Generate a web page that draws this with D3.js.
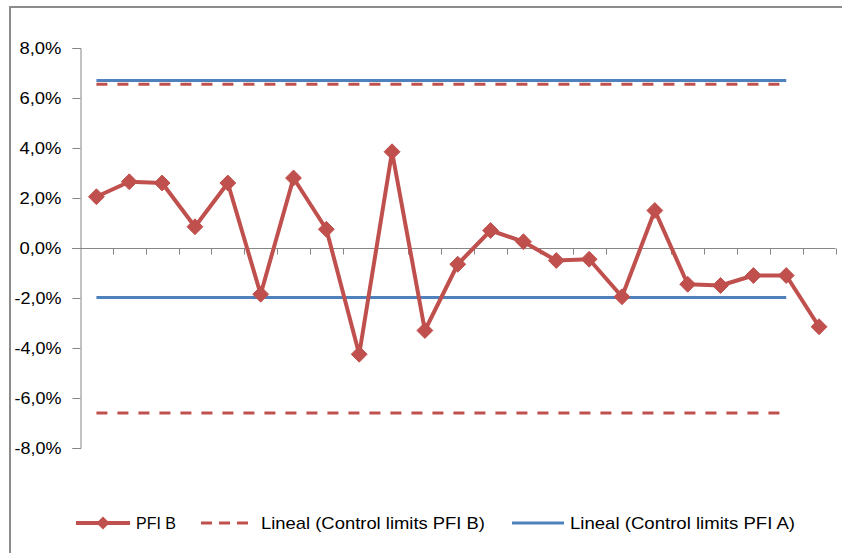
<!DOCTYPE html>
<html>
<head>
<meta charset="utf-8">
<script src="https://cdn.jsdelivr.net/npm/d3@7"></script>
<style>
  html, body { margin: 0; padding: 0; background: #fff; }
  svg { display: block; }
</style>
</head>
<body>
<svg id="chart" width="842" height="553"></svg>
<script>
// categories (no labels shown on the x axis)
var categories = [1, 2, 3, 4, 5, 6, 7, 8, 9, 10, 11, 12, 13, 14, 15, 16, 17, 18, 19, 20, 21, 22, 23];

// PFI B, in percent
var pfiB = [2.05, 2.65, 2.6, 0.85, 2.6, -1.85, 2.8, 0.75, -4.25, 3.85, -3.3, -0.65,
            0.7, 0.25, -0.5, -0.45, -1.95, 1.5, -1.45, -1.5, -1.1, -1.1, -3.15];

// control limits (upper, lower), drawn over the first 22 categories
var limitsB = [6.55, -6.6];
var limitsA = [6.7, -1.98];
var limitCats = categories.slice(0, 22);

var yTicks = [8, 6, 4, 2, 0, -2, -4, -6, -8];

var legendNames = ["PFI B", "Lineal (Control limits PFI B)", "Lineal (Control limits PFI A)"];

var red = "#c0504d", blue = "#4f81bd", axisGrey = "#868686";
var font = "'Liberation Sans Narrow', 'Arial Narrow', 'Liberation Sans', sans-serif";

var svg = d3.select("#chart");

// outer frame (cropped at right/bottom)
svg.append("rect")
    .attr("x", 10).attr("y", 7)
    .attr("width", 900).attr("height", 700)
    .style("fill", "none")
    .style("stroke", "#8c8c8c")
    .style("stroke-width", 2);

var x = d3.scaleBand()
    .domain(categories)
    .range([80, 835.5])
    .padding(0);

var y = d3.scaleLinear()
    .domain([-8, 8])
    .range([448, 48]);

function cx(d) { return x(d) + x.bandwidth() / 2; }

// y axis
var yAxis = svg.append("g")
    .attr("transform", "translate(80.5,0)")
    .call(d3.axisLeft(y).tickValues(yTicks).tickSize(8).tickPadding(11)
        .tickFormat(function(d) { return d.toFixed(1).replace(".", ",") + "%"; }));
yAxis.select(".domain").style("stroke", axisGrey);
yAxis.selectAll(".tick line").style("stroke", axisGrey);
yAxis.selectAll("text")
    .style("font-family", font)
    .style("font-size", "17px")
    .style("fill", "#000")
    .attr("textLength", function(d) { return d < 0 ? 47 : 42; })
    .attr("lengthAdjust", "spacingAndGlyphs");

// x axis at zero, ticks at category boundaries
var xg = svg.append("g").attr("transform", "translate(0," + (y(0) + 0.5) + ")");
xg.append("line")
    .attr("x1", 72).attr("x2", x.range()[1])
    .style("stroke", axisGrey);
xg.selectAll(".xt")
    .data(categories)
  .enter().append("line")
    .attr("class", "xt")
    .attr("x1", function(d) { return Math.round(x(d) + x.bandwidth()) + 0.5; })
    .attr("x2", function(d) { return Math.round(x(d) + x.bandwidth()) + 0.5; })
    .attr("y1", 0).attr("y2", 6)
    .style("stroke", axisGrey);

// control limit lines
function limitLine(v, color, dash, width) {
  var line = d3.line().x(cx).y(function() { return y(v); });
  svg.append("path")
      .datum(limitCats)
      .attr("d", line)
      .style("fill", "none")
      .style("stroke", color)
      .style("stroke-width", width)
      .style("stroke-dasharray", dash);
}
limitsA.forEach(function(v) { limitLine(v, blue, null, 3); });
limitsB.forEach(function(v) { limitLine(v, red, "11,10", 3); });

// PFI B series
var lineB = d3.line()
    .x(function(d, i) { return cx(categories[i]); })
    .y(function(d) { return y(d); });

svg.append("path")
    .datum(pfiB)
    .attr("d", lineB)
    .style("fill", "none")
    .style("stroke", red)
    .style("stroke-width", 4)
    .style("stroke-linejoin", "round");

var diamond = d3.symbol().type(d3.symbolDiamond2).size(160);
svg.selectAll(".pt")
    .data(pfiB)
  .enter().append("path")
    .attr("class", "pt")
    .attr("d", diamond)
    .attr("transform", function(d, i) { return "translate(" + cx(categories[i]) + "," + y(d) + ")"; })
    .style("fill", red)
    .style("stroke", red)
    .style("stroke-width", 1);

// legend
var legendY = 523;
var legendItems = [
  {x1: 76, x2: 130, tx: 136, w: 40, color: red, dash: null, marker: true},
  {x1: 201, x2: 254, tx: 261, w: 224, color: red, dash: "11,7", marker: false},
  {x1: 512, x2: 564, tx: 570, w: 225, color: blue, dash: null, marker: false}
];
var lg = svg.append("g");
legendItems.forEach(function(it, i) {
  lg.append("line")
      .attr("x1", it.x1).attr("x2", it.x2)
      .attr("y1", legendY).attr("y2", legendY)
      .style("stroke", it.color)
      .style("stroke-width", it.marker ? 4 : 3)
      .style("stroke-dasharray", it.dash);
  if (it.marker) {
    lg.append("path")
        .attr("d", d3.symbol().type(d3.symbolDiamond2).size(110))
        .attr("transform", "translate(" + ((it.x1 + it.x2) / 2) + "," + legendY + ")")
        .style("fill", it.color);
  }
  lg.append("text")
      .attr("x", it.tx)
      .attr("y", legendY)
      .attr("dy", "0.35em")
      .attr("textLength", it.w)
      .attr("lengthAdjust", "spacingAndGlyphs")
      .style("font-family", font)
      .style("font-size", "17px")
      .style("fill", "#000")
      .text(legendNames[i]);
});
</script>
</body>
</html>
